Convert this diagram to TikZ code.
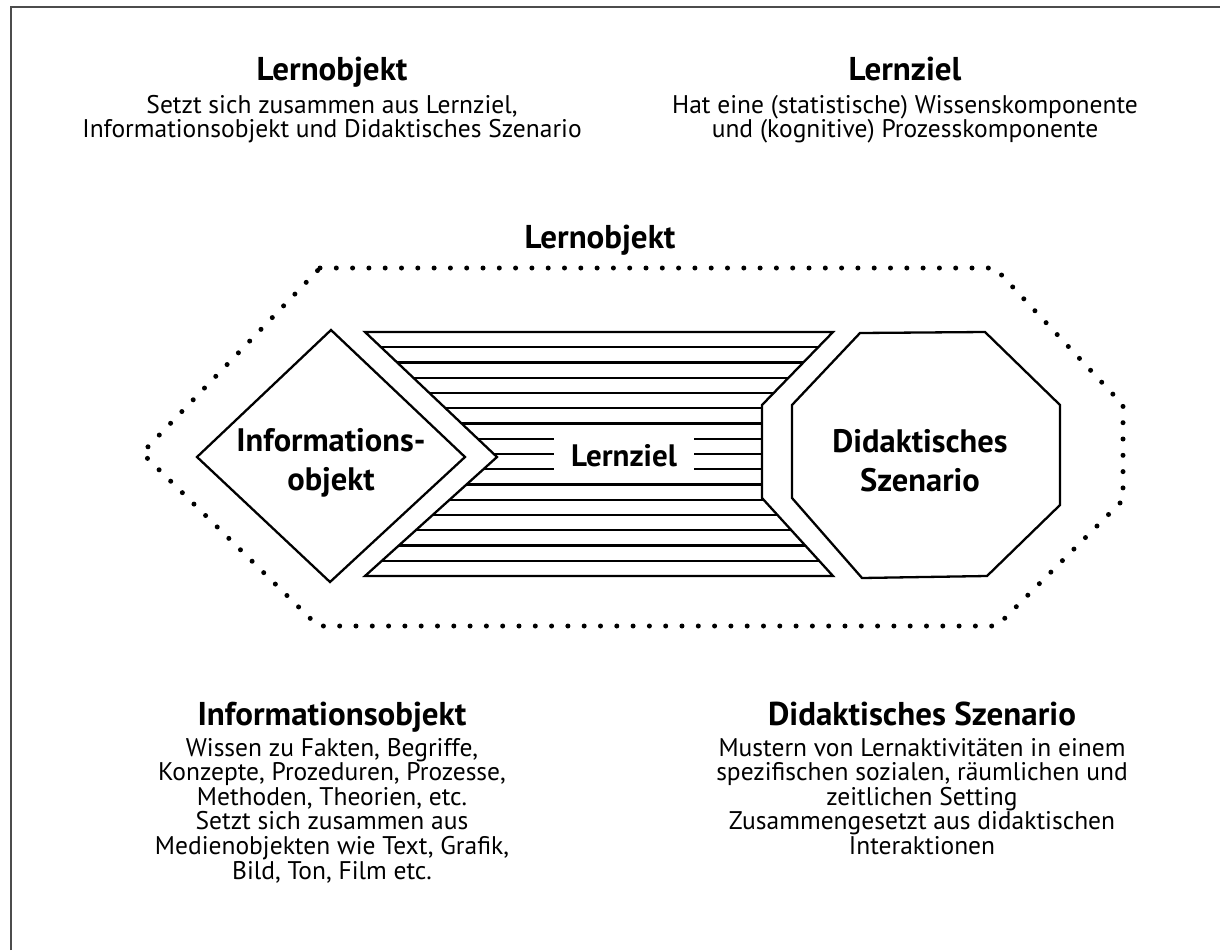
\documentclass[tikz,border=0pt]{standalone}
\usepackage{fontspec}
\setmainfont{PT Sans}
\begin{document}
\begin{tikzpicture}[x=1pt,y=-1pt,
  headtext/.style={font=\fontsize{33}{34}\selectfont\bfseries, anchor=base, inner sep=0pt},
  bodytext/.style={font=\fontsize{25.5}{26}\selectfont, anchor=base, inner sep=0pt},
  shapelabel/.style={font=\fontsize{32.5}{39}\selectfont\bfseries, align=center, inner sep=0pt},
  outline/.style={line width=2.3pt, line join=miter},
  dotline/.style={line width=5pt, line cap=round, dash pattern=on 0pt off 16.3pt}]
\useasboundingbox (0,0) rectangle (1220,950);

% frame
\draw[black!70, line width=1.6pt] (11,950) -- (11,7) -- (1220,7);

% top texts
\node[headtext] (lotitle) at (332,80) {Lernobjekt};
\node[bodytext] (lo1) at (332,113) {Setzt sich zusammen aus Lernziel,};
\node[bodytext] (lo2) at (332,137) {Informationsobjekt und Didaktisches Szenario};

\node[headtext] (lztitle) at (905,80) {Lernziel};
\node[bodytext] (lz1) at (905,113) {Hat eine (statistische) Wissenskomponente};
\node[bodytext] (lz2) at (905,137) {und (kognitive) Prozesskomponente};

% outer dotted hull
\node[headtext] (hulltitle) at (600,248) {Lernobjekt};
\draw[dotline] (320,268) -- (995,268) -- (1123,405) -- (1123,500)
  -- (997,626) -- (318,626) -- (142,453) -- cycle;

% Informationsobjekt
\draw[outline] (331,330) -- (465,457) -- (330,582) -- (197,457) -- cycle;
\node[shapelabel] (iolabel) at (331,463) {Informations-\\objekt};

% Lernziel, striped
\begin{scope}
  \clip (365,332) -- (833,332) -- (762,405) -- (762,498) -- (833,576)
    -- (365,576) -- (497,457) -- cycle;
  \foreach \i in {0,...,16}
    \draw[line width=2.3pt] (350,{332+15.25*\i}) -- (850,{332+15.25*\i});
\end{scope}
\draw[outline] (365,332) -- (833,332) -- (762,405) -- (762,498) -- (833,576)
  -- (365,576) -- (497,457) -- cycle;
\node[fill=white, minimum width=140pt, minimum height=42pt, inner sep=0pt,
  font=\fontsize{31}{36}\selectfont\bfseries] (lzlabel) at (624,456) {Lernziel};

% Didaktisches Szenario
\draw[outline] (792,405) -- (860,333) -- (985,332) -- (1060,405) -- (1060,505)
  -- (987,576) -- (862,578) -- (792,498) -- cycle;
\node[shapelabel] (dslabel) at (920,461) {Didaktisches\\Szenario};

% bottom texts
\node[headtext] (iotitle) at (332,725) {Informationsobjekt};
\foreach \ln [count=\i] in {{Wissen zu Fakten, Begriffe,},
    {Konzepte, Prozeduren, Prozesse,}, {Methoden, Theorien, etc.},
    {Setzt sich zusammen aus}, {Medienobjekten wie Text, Grafik,},
    {Bild, Ton, Film etc.}}
  \node[bodytext] (io\i) at (332,{756+24.6*(\i-1)}) {\ln};

\node[headtext] (dstitle) at (922,725) {Didaktisches Szenario};
\foreach \ln [count=\i] in {{Mustern von Lernaktivitäten in einem},
    {spezifischen sozialen, räumlichen und}, {zeitlichen Setting},
    {Zusammengesetzt aus didaktischen}, {Interaktionen}}
  \node[bodytext] (ds\i) at (922,{756+24.6*(\i-1)}) {\ln};
\end{tikzpicture}
\end{document}
